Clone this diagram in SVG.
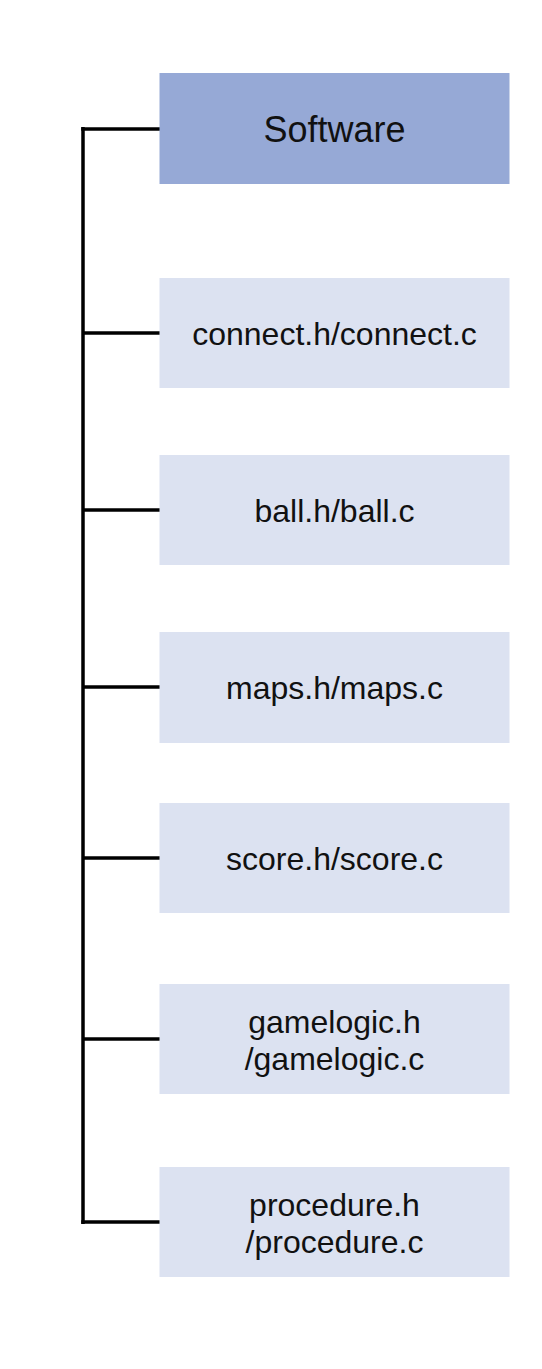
<svg xmlns="http://www.w3.org/2000/svg" width="542" height="1369" viewBox="0 0 542 1369">
<style>
.box{fill:#dce2f1}
.top{fill:#96a9d6}
.lbl{font-family:"Liberation Sans",Arial,sans-serif;font-size:32px;fill:#111;text-anchor:middle}
.big{font-size:36px}
.conn{stroke:#000;stroke-width:3.5;fill:none;stroke-linecap:butt}
</style>
<rect width="542" height="1369" fill="#fff"/>
<g id="connectors">
<path class="conn" d="M83 127V1224"/>
<path class="conn" d="M81.25 129H160"/>
<path class="conn" d="M83 333H160"/>
<path class="conn" d="M83 510H160"/>
<path class="conn" d="M83 687H160"/>
<path class="conn" d="M83 858H160"/>
<path class="conn" d="M83 1039H160"/>
<path class="conn" d="M81.25 1222H160"/>
</g>
<g id="software"><rect class="top" x="159.5" y="73" width="350" height="111"/><text class="lbl big" x="334.5" y="142">Software</text></g>
<g id="connect"><rect class="box" x="159.5" y="278" width="350" height="110"/><text class="lbl" x="334.5" y="345">connect.h/connect.c</text></g>
<g id="ball"><rect class="box" x="159.5" y="455" width="350" height="110"/><text class="lbl" x="334.5" y="522">ball.h/ball.c</text></g>
<g id="maps"><rect class="box" x="159.5" y="632" width="350" height="111"/><text class="lbl" x="334.5" y="699">maps.h/maps.c</text></g>
<g id="score"><rect class="box" x="159.5" y="803" width="350" height="110"/><text class="lbl" x="334.5" y="870">score.h/score.c</text></g>
<g id="gamelogic"><rect class="box" x="159.5" y="984" width="350" height="110"/><text class="lbl" x="334.5" y="1033">gamelogic.h</text><text class="lbl" x="334.5" y="1070">/gamelogic.c</text></g>
<g id="procedure"><rect class="box" x="159.5" y="1167" width="350" height="110"/><text class="lbl" x="334.5" y="1216">procedure.h</text><text class="lbl" x="334.5" y="1253">/procedure.c</text></g>
</svg>
